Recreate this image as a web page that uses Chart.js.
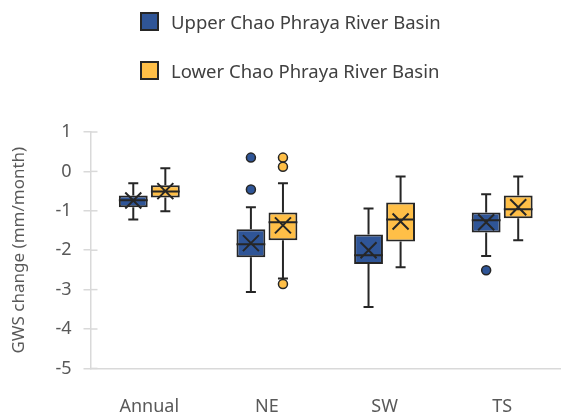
<!DOCTYPE html>
<html>
<head>
<meta charset="utf-8">
<script src="https://cdn.jsdelivr.net/npm/chart.js@4.4.1/dist/chart.umd.min.js"></script>
<style>
  body { margin: 0; background: #fff; }
  #wrap { position: relative; width: 561px; height: 418px; }
  #legend { position: absolute; left: 140px; top: 12px; font-family: "Noto Sans", sans-serif; font-size: 18.5px; color: #404040; }
  .item { display: flex; align-items: center; height: 19px; margin-bottom: 30px; white-space: nowrap; }
  .sw { width: 15px; height: 15px; border: 2px solid #262626; margin-right: 12px; }
</style>
</head>
<body>
<div id="wrap">
  <canvas id="chart" width="561" height="418"></canvas>
  <div id="legend"></div>
</div>
<script>
// données
const categories = ['Annual', 'NE', 'SW', 'TS'];
const seriesNames = ['Upper Chao Phraya River Basin', 'Lower Chao Phraya River Basin'];
const seriesColors = ['#2f5597', '#ffbf47'];

const upperMin = [-1.22, -3.06, -3.44, -2.15];
const upperQ1 = [-0.91, -2.18, -2.35, -1.55];
const upperMedian = [-0.73, -1.85, -2.13, -1.24];
const upperQ3 = [-0.61, -1.47, -1.60, -1.04];
const upperMax = [-0.30, -0.91, -0.94, -0.58];
const upperMean = [-0.74, -1.82, -2.00, -1.29];
const upperOutliers = [[], [0.35, -0.46], [], [-2.51]];

const lowerMin = [-1.01, -2.72, -2.43, -1.75];
const lowerQ1 = [-0.66, -1.75, -1.78, -1.19];
const lowerMedian = [-0.51, -1.29, -1.22, -0.96];
const lowerQ3 = [-0.35, -1.04, -0.79, -0.61];
const lowerMax = [0.08, -0.30, -0.13, -0.13];
const lowerMean = [-0.50, -1.37, -1.27, -0.91];
const lowerOutliers = [[], [0.35, 0.12, -2.86], [], []];

const yTicks = [1, 0, -1, -2, -3, -4, -5];

const stats = [
    { min: upperMin, q1: upperQ1, med: upperMedian, q3: upperQ3, max: upperMax, mean: upperMean, out: upperOutliers },
    { min: lowerMin, q1: lowerQ1, med: lowerMedian, q3: lowerQ3, max: lowerMax, mean: lowerMean, out: lowerOutliers }
];

const dark = '#262626';
const axisGray = '#d9d9d9';
const textGray = '#595959';

// légende html
const legendEl = document.getElementById('legend');
seriesNames.forEach((name, i) => {
    const div = document.createElement('div');
    div.className = 'item';
    div.innerHTML = `<span class="sw" style="background:${seriesColors[i]}"></span>${name}`;
    legendEl.appendChild(div);
});

// moustaches, médiane, moyenne et points isolés
const boxExtras = {
    id: 'boxExtras',
    afterDatasetsDraw(chart) {
        const ctx = chart.ctx;
        const y = chart.scales.y;
        ctx.save();
        ctx.strokeStyle = dark;
        ctx.lineWidth = 2;
        stats.forEach((s, di) => {
            const meta = chart.getDatasetMeta(di);
            meta.data.forEach((bar, i) => {
                const x = bar.x;
                const w = bar.width;
                const cap = 5;
                ctx.beginPath();
                // moustache haute
                ctx.moveTo(x, y.getPixelForValue(s.q3[i]));
                ctx.lineTo(x, y.getPixelForValue(s.max[i]));
                ctx.moveTo(x - cap, y.getPixelForValue(s.max[i]));
                ctx.lineTo(x + cap, y.getPixelForValue(s.max[i]));
                // moustache basse
                ctx.moveTo(x, y.getPixelForValue(s.q1[i]));
                ctx.lineTo(x, y.getPixelForValue(s.min[i]));
                ctx.moveTo(x - cap, y.getPixelForValue(s.min[i]));
                ctx.lineTo(x + cap, y.getPixelForValue(s.min[i]));
                // médiane
                ctx.moveTo(x - w / 2, y.getPixelForValue(s.med[i]));
                ctx.lineTo(x + w / 2, y.getPixelForValue(s.med[i]));
                // moyenne (croix)
                const my = y.getPixelForValue(s.mean[i]);
                const h = 8;
                ctx.moveTo(x - h, my - h);
                ctx.lineTo(x + h, my + h);
                ctx.moveTo(x - h, my + h);
                ctx.lineTo(x + h, my - h);
                ctx.stroke();
                // outliers
                s.out[i].forEach(v => {
                    ctx.beginPath();
                    ctx.arc(x, y.getPixelForValue(v), 4.5, 0, Math.PI * 2);
                    ctx.fillStyle = seriesColors[di];
                    ctx.fill();
                    ctx.lineWidth = 1.5;
                    ctx.stroke();
                    ctx.lineWidth = 2;
                });
            });
        });
        // petits traits de graduation côté intérieur
        const x0 = chart.scales.x.left;
        ctx.strokeStyle = axisGray;
        ctx.lineWidth = 1.5;
        yTicks.forEach(t => {
            const py = y.getPixelForValue(t);
            ctx.beginPath();
            ctx.moveTo(x0, py);
            ctx.lineTo(x0 + 7, py);
            ctx.stroke();
        });
        ctx.restore();
    }
};

const ctx = document.getElementById('chart').getContext('2d');
new Chart(ctx, {
    type: 'bar',
    data: {
        labels: categories,
        datasets: stats.map((s, i) => ({
            label: seriesNames[i],
            data: s.q1.map((q, k) => [q, s.q3[k]]),
            backgroundColor: seriesColors[i],
            borderColor: dark,
            borderWidth: 2,
            borderSkipped: false,
            categoryPercentage: 0.545,
            barPercentage: 0.9
        }))
    },
    options: {
        responsive: false,
        animation: false,
        layout: { padding: { top: 132, right: 0, left: 9, bottom: -20 } },
        plugins: {
            legend: { display: false },
            tooltip: { enabled: false }
        },
        scales: {
            x: {
                grid: { display: false },
                border: { display: true, color: axisGray, width: 1.5 },
                ticks: { color: textGray, font: { family: 'Noto Sans', size: 18 }, padding: 20 }
            },
            y: {
                min: -5,
                max: 1,
                afterBuildTicks: axis => { axis.ticks = yTicks.map(v => ({ value: v })); },
                grid: { drawOnChartArea: false, color: axisGray, lineWidth: 1.5, tickLength: 7 },
                border: { display: true, color: axisGray, width: 1.5 },
                ticks: { color: textGray, font: { family: 'Noto Sans', size: 18 }, padding: 12 },
                title: {
                    display: true,
                    text: 'GWS change (mm/month)',
                    color: textGray,
                    font: { family: 'Noto Sans', size: 17 },
                    padding: { top: 0, bottom: 14 }
                }
            }
        }
    },
    plugins: [boxExtras]
});
</script>
</body>
</html>
